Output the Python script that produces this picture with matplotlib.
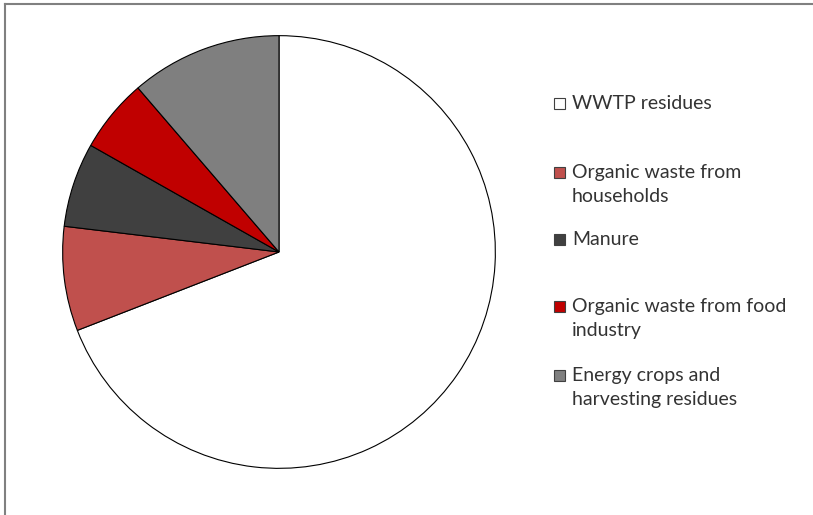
import matplotlib
matplotlib.use("Agg")
import matplotlib.pyplot as plt
from matplotlib.patches import Rectangle
from matplotlib.lines import Line2D

categories = ["WWTP residues", "Organic waste from\nhouseholds", "Manure",
              "Organic waste from food\nindustry", "Energy crops and\nharvesting residues"]
shares = [69.1, 7.8, 6.3, 5.5, 11.3]
colors = ["#FFFFFF", "#C0504D", "#404040", "#C00000", "#7F7F7F"]

W, H = 813, 515
fig = plt.figure(figsize=(W / 100, H / 100), dpi=100)
plt.rcParams['font.family'] = ['Lato', 'DejaVu Sans']

# frame lines (top and left)
fig.add_artist(Line2D([5 / W, 1], [1 - 4 / H, 1 - 4 / H], color="#808080", lw=1.5, transform=fig.transFigure))
fig.add_artist(Line2D([5 / W, 5 / W], [0, 1 - 4 / H], color="#808080", lw=1.5, transform=fig.transFigure))

cx, cy, r = 279, 252, 217
ax = fig.add_axes([(cx - r) / W, (H - cy - r) / H, 2 * r / W, 2 * r / H])
ax.pie(shares, colors=colors, startangle=90, counterclock=False,
       wedgeprops=dict(edgecolor="black", linewidth=0.8))
ax.set_xlim(-1.003, 1.003)
ax.set_ylim(-1.003, 1.003)
ax.set_aspect("equal")
ax.axis("off")

baselines = [109, 178, 245, 312, 381]
line_gap = 24
sq = 11
for lab, col, b in zip(categories, colors, baselines):
    fig.add_artist(Rectangle((554 / W, (H - b + 0.5) / H), sq / W, sq / H,
                             facecolor=col, edgecolor="#404040", lw=0.8,
                             transform=fig.transFigure))
    for i, line in enumerate(lab.split("\n")):
        fig.text(572 / W, (H - b - i * line_gap) / H, line, fontsize=14,
                 color="#333333", va="baseline", ha="left")

fig.savefig("out.png", dpi=100)
